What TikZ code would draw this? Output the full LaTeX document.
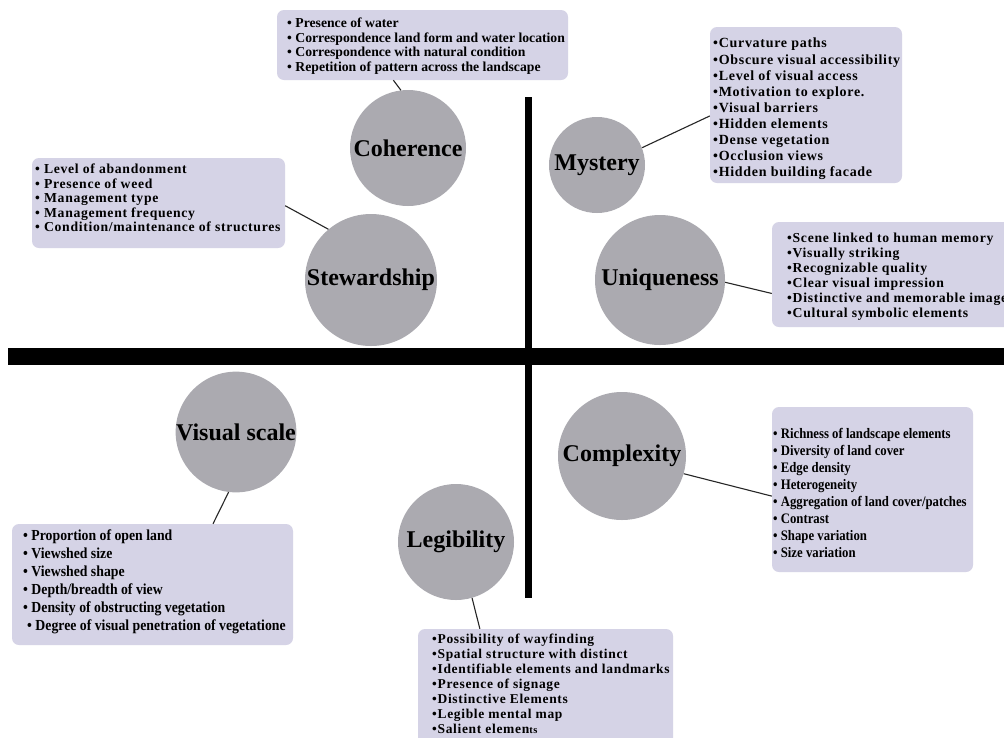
\documentclass[tikz,border=0pt]{standalone}
\usepackage{fontspec}
\setmainfont{Liberation Serif}
\newfontfamily\trk[LetterSpace=5]{Liberation Serif}
\newfontfamily\cnd[FakeStretch=0.88]{Liberation Serif}
\newfontfamily\cndb[FakeStretch=0.9]{Liberation Serif}
\usetikzlibrary{calc}
\definecolor{cgray}{RGB}{171,170,176}
\definecolor{boxc}{RGB}{213,211,230}
\begin{document}
\begin{tikzpicture}[x=1pt,y=-1pt,
  circ/.style={circle,fill=cgray,inner sep=0pt,font=\bfseries\fontsize{24}{26}\selectfont},
  boxn/.style={fill=boxc,rounded corners=7pt,inner sep=0pt},
  txt/.style={anchor=west,align=left,inner sep=0pt},
  conn/.style={line width=1.1pt,draw=black!85}]
\useasboundingbox (0,0) rectangle (1004,737);
\clip (0,0) rectangle (1004,737);
\fill[white] (0,0) rectangle (1004,737);
% axes
\fill[black] (8,348) rectangle (1004,365);
\fill[black] (525,97) rectangle (532,598);
% circles
\node[circ,minimum size=116pt] (coh) at (408,148) {Coherence};
\node[circ,minimum size=132pt] (ste) at (371,280) {Stewardship};
\node[circ,minimum size=96pt] (mys) at (597,165) {Mystery};
\node[circ,minimum size=130pt] (uni) at (660,280) {\raisebox{4pt}{Uniqueness}};
\node[circ,minimum size=120pt] (vis) at (236,432) {Visual scale};
\node[circ,minimum size=128pt] (com) at (622,456) {\raisebox{4pt}{Complexity}};
\node[circ,minimum size=116pt] (leg) at (456,542) {Legibility};
% boxes
\node[boxn,minimum width=291pt,minimum height=70pt] (cohB) at (422.5,45) {};
\node[boxn,minimum width=192pt,minimum height=156pt] (mysB) at (806,105) {};
\node[boxn,minimum width=253pt,minimum height=90pt] (steB) at (158.5,203) {};
\node[boxn,minimum width=243pt,minimum height=105pt] (uniB) at (893.5,274.5) {};
\node[boxn,minimum width=201pt,minimum height=165pt] (comB) at (872.5,489.5) {};
\node[boxn,minimum width=281pt,minimum height=121pt] (visB) at (152.5,584.5) {};
\node[boxn,minimum width=255pt,minimum height=136pt] (legB) at (545.5,697) {};
% texts
\node[txt,font=\bfseries\fontsize{13.7}{14.5}\selectfont] (cohT) at (287,46) {%
• Presence of water\\
• Correspondence land form and water location\\
• Correspondence with natural condition\\
• Repetition of pattern across the landscape};
\node[txt,font=\trk\bfseries\fontsize{14}{16.1}\selectfont] (mysT) at (713,109) {%
•Curvature paths\\
•Obscure visual accessibility\\
•Level of visual access\\
•Motivation to explore.\\
•Visual barriers\\
•Hidden elements\\
•Dense vegetation\\
•Occlusion views\\
•Hidden building facade};
\node[txt,font=\trk\bfseries\fontsize{13.7}{14.5}\selectfont] (steT) at (35,198) {%
• Level of abandonment\\
• Presence of weed\\
• Management type\\
• Management frequency\\
• Condition/maintenance of structures};
\node[txt,font=\trk\bfseries\fontsize{13.7}{15}\selectfont] (uniT) at (787,277) {%
•Scene linked to human memory\\
•Visually striking\\
•Recognizable quality\\
•Clear visual impression\\
•Distinctive and memorable image\\
•Cultural symbolic elements};
\node[txt,font=\cnd\bfseries\fontsize{14.5}{17.1}\selectfont] (comT) at (773,493) {%
• Richness of landscape elements\\
• Diversity of land cover\\
• Edge density\\
• Heterogeneity\\
• Aggregation of land cover/patches\\
• Contrast\\
• Shape variation\\
• Size variation};
\node[txt,font=\cndb\bfseries\fontsize{15.3}{18}\selectfont] (visT) at (23,582) {%
• Proportion of open land\\
• Viewshed size\\
• Viewshed shape\\
• Depth/breadth of view\\
• Density of obstructing vegetation\\
\hspace{4pt}• Degree of visual penetration of vegetatione};
\node[txt,font=\trk\bfseries\fontsize{13.5}{15}\selectfont] (legT) at (432,684) {%
•Possibility of wayfinding\\
•Spatial structure with distinct\\
•Identifiable elements and landmarks\\
•Presence of signage\\
•Distinctive Elements\\
•Legible mental map\\
•Salient elemen{\fontsize{10.5}{15}\selectfont ts}};
% connectors
\draw[conn] ($(cohB.south west)!0.40!(cohB.south east)$) -- (coh.97);
\draw[conn] ($(steB.north east)!0.53!(steB.south east)$) -- (ste.130);
\draw[conn] (mys.21) -- ($(mysB.north west)!0.57!(mysB.south west)$);
\draw[conn] (uni.-2) -- ($(uniB.north west)!0.68!(uniB.south west)$);
\draw[conn] (com.-16) -- ($(comB.north west)!0.54!(comB.south west)$);
\draw[conn] (vis.263) -- ($(visB.north west)!0.715!(visB.north east)$);
\draw[conn] (leg.286) -- ($(legB.north west)!0.243!(legB.north east)$);
\end{tikzpicture}
\end{document}
